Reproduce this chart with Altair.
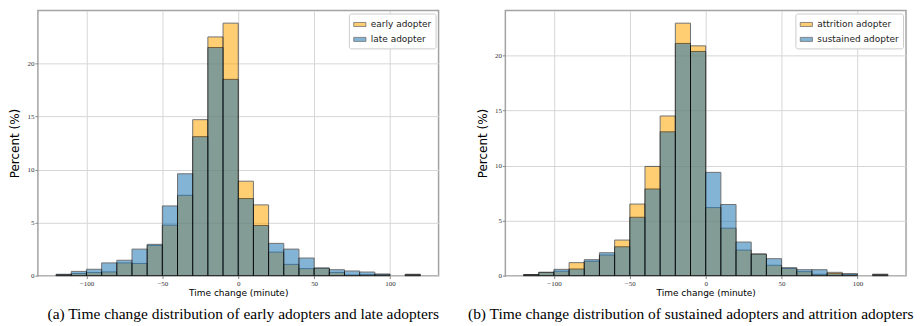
import altair as alt
import pandas as pd

# Left edges of the 10-minute bins (-120 ... 110)
bin_left = list(range(-120, 120, 10))

# Panel (a)
early = [0.10, 0.20, 0.30, 0.35, 1.20, 1.15, 2.85, 4.76, 7.57, 14.70, 22.50, 23.80,
         8.90, 6.67, 2.22, 1.06, 0.66, 0.70, 0.30, 0.06, 0.10, 0.12, 0.0, 0.12]
late = [0.13, 0.40, 0.60, 1.20, 1.45, 2.50, 2.95, 6.57, 9.60, 13.10, 21.50, 18.50,
        7.26, 4.73, 3.04, 2.50, 1.66, 0.72, 0.56, 0.44, 0.34, 0.15, 0.0, 0.12]

# Panel (b)
attrition = [0.10, 0.30, 0.40, 1.18, 1.30, 1.87, 3.23, 6.50, 9.92, 14.50, 22.93, 20.87,
             6.18, 4.31, 2.32, 1.96, 0.94, 0.66, 0.36, 0.12, 0.30, 0.12, 0.0, 0.12]
sustained = [0.10, 0.30, 0.57, 0.60, 1.45, 2.08, 2.62, 5.30, 7.87, 13.06, 21.09, 20.36,
             9.38, 6.46, 3.05, 1.96, 1.54, 0.72, 0.54, 0.54, 0.18, 0.18, 0.0, 0.12]

x_ticks = [-100, -50, 0, 50, 100]
y_ticks = [0, 5, 10, 15, 20]

ORANGE = "#ffa500"
BLUE = "#1f77b4"


def panel(s1, v1, s2, v2, ymax, caption, cap_dx):
    rows = []
    for name, vals in ((s1, v1), (s2, v2)):
        for lo, v in zip(bin_left, vals):
            if v > 0:
                rows.append({"lo": lo, "hi": lo + 10, "pct": v, "series": name})
    df = pd.DataFrame(rows)
    return alt.Chart(df).mark_bar(
        opacity=0.55, stroke="black", strokeWidth=1
    ).encode(
        x=alt.X("lo:Q",
                scale=alt.Scale(domain=[-132, 132], nice=False, zero=False),
                axis=alt.Axis(values=x_ticks, title="Time change (minute)",
                              titleFontSize=9, titleY=17, titleX=201,
                              titleBaseline="middle", titleAlign="center")),
        x2="hi:Q",
        y=alt.Y("pct:Q", stack=None,
                scale=alt.Scale(domain=[0, ymax], nice=False),
                axis=alt.Axis(values=y_ticks, title="Percent (%)",
                              titleFontSize=12, titleX=-23, titleY=133,
                              titleAngle=270, titleAlign="center",
                              titleBaseline="middle")),
        y2=alt.datum(0),
        color=alt.Color("series:N",
                        scale=alt.Scale(domain=[s1, s2], range=[ORANGE, BLUE]),
                        legend=alt.Legend(title=None, orient="top-right", offset=3,
                                          padding=4, strokeColor="#cccccc",
                                          fillColor="white", cornerRadius=2,
                                          labelFont="DejaVu Sans", labelFontSize=9,
                                          labelColor="#222222", labelOffset=4,
                                          symbolType="M-1,-0.33L1,-0.33L1,0.33L-1,0.33Z",
                                          symbolSize=150, symbolStrokeColor="black",
                                          symbolStrokeWidth=0.8, symbolOpacity=0.55,
                                          rowPadding=3)),
    ).properties(
        width=402, height=266,
        title=alt.TitleParams(caption, orient="bottom", anchor="middle",
                              dx=cap_dx, offset=10, font="Liberation Serif",
                              fontSize=15.5, fontWeight="normal", color="black"),
    )


pa = panel("early adopter", early, "late adopter", late, 24.99,
           "(a) Time change distribution of early adopters and late adopters", 5)
pb = panel("attrition adopter", attrition, "sustained adopter", sustained, 24.08,
           "(b) Time change distribution of sustained adopters and attrition adopters", -15)

chart = alt.hconcat(pa, pb, spacing=67, bounds="flush").resolve_scale(
    color="independent", x="independent", y="independent"
).resolve_legend(color="independent").properties(
    padding={"left": 0, "top": 1, "right": 0, "bottom": 0}
).configure_view(
    stroke="#a3a3a3", strokeWidth=1.5
).configure_axis(
    labelFont="Liberation Serif", labelFontSize=7, labelColor="#333333",
    tickColor="#888888", tickSize=3, labelPadding=1,
    gridColor="#d6d6d6", gridWidth=1, domain=False,
    titleFont="DejaVu Sans", titleFontWeight="normal", titleColor="black"
)

chart.save("out.html", embed_options={"renderer": "svg", "actions": False})
